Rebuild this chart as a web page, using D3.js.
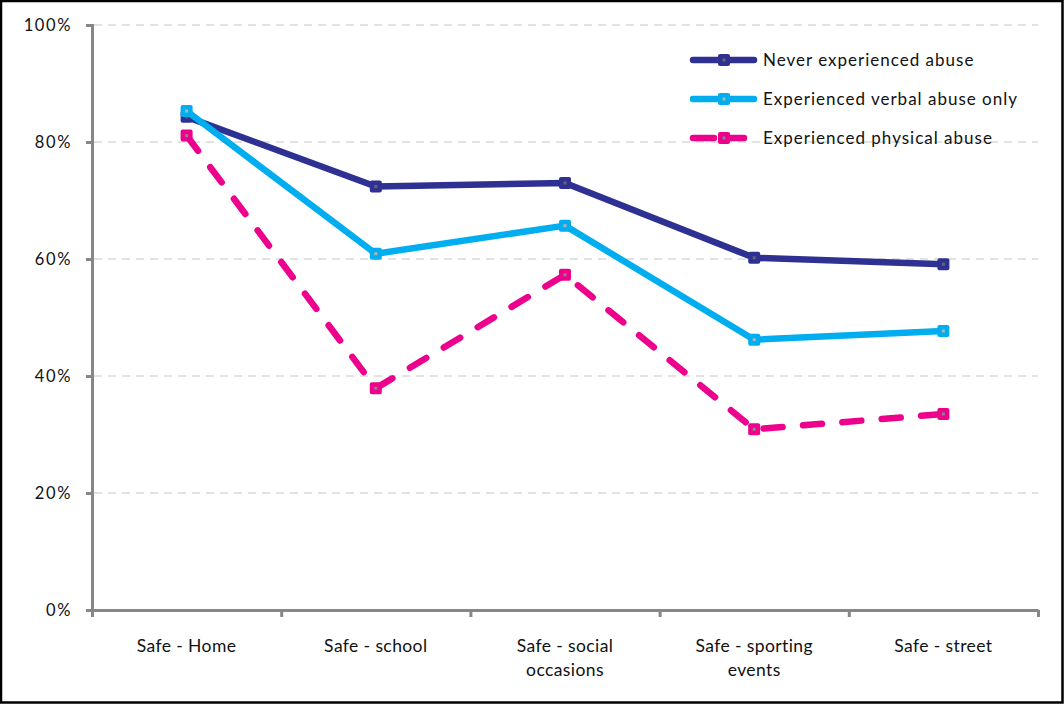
<!DOCTYPE html>
<html>
<head>
<meta charset="utf-8">
<script src="https://cdn.jsdelivr.net/npm/d3@7"></script>
<style>
	body { margin: 0; background: #fff; }
	text { font-family: Lato, "Open Sans", sans-serif; fill: #111; }
</style>
</head>
<body>
<svg id="chart" width="1064" height="704"></svg>
<script>
// Chart data
const categories = ['Safe - Home', 'Safe - school', 'Safe - social occasions', 'Safe - sporting events', 'Safe - street'];
const neverAbuse = [0.843, 0.724, 0.730, 0.602, 0.591];
const verbalAbuse = [0.853, 0.609, 0.657, 0.462, 0.477];
const physicalAbuse = [0.811, 0.379, 0.573, 0.309, 0.335];
const seriesNames = ['Never experienced abuse', 'Experienced verbal abuse only', 'Experienced physical abuse'];
const yTicks = [0, 0.2, 0.4, 0.6, 0.8, 1];

// Layout
const width = 1064, height = 704;
const margin = { top: 25, right: 26, bottom: 94, left: 92 };
const svg = d3.select('#chart');

let series = [
	{ name: seriesNames[0], values: neverAbuse, color: '#2e3192', dash: null, dot: '#666' },
	{ name: seriesNames[1], values: verbalAbuse, color: '#00aeef', dash: null, dot: '#b3b3b3' },
	{ name: seriesNames[2], values: physicalAbuse, color: '#ec008c', dash: '19,20.5', dot: '#888' }
];

// outer frame
svg.append('rect')
	.attr('x', 1).attr('y', 1)
	.attr('width', width - 2.5).attr('height', height - 2.5)
	.attr('fill', '#fff')
	.attr('stroke', '#000')
	.attr('stroke-width', 2.5);

let x = d3.scaleBand()
	.domain(categories)
	.range([margin.left, width - margin.right]);
let xTicks = d3.scaleLinear()
	.domain([0, categories.length])
	.range([margin.left, width - margin.right]);
let y = d3.scaleLinear()
	.domain([0, 1])
	.range([height - margin.bottom, margin.top]);
const cx = (i) => x(categories[i]) + x.bandwidth() / 2;

// gridlines
svg.append('g')
	.selectAll('line')
	.data(yTicks.filter(d => d > 0))
	.enter()
	.append('line')
	.attr('x1', margin.left + 2)
	.attr('x2', width - margin.right)
	.attr('y1', d => y(d))
	.attr('y2', d => y(d))
	.attr('stroke', '#d9d9d9')
	.attr('stroke-width', 1.5)
	.attr('stroke-dasharray', '8,6');

// y axis
let yAxis = svg.append('g')
	.attr('transform', `translate(${margin.left},0)`)
	.call(d3.axisLeft(y).tickValues(yTicks).tickFormat(d3.format('.0%')).tickSize(6).tickPadding(14));
yAxis.select('.domain').attr('stroke', '#878787').attr('stroke-width', 3);
yAxis.selectAll('.tick line').attr('stroke', '#878787').attr('stroke-width', 3);
yAxis.selectAll('.tick text')
	.style('font-size', '16.5px')
	.style('letter-spacing', '1.6px')
	.attr('fill', '#111');

// x axis: ticks on the category boundaries
let xAxis = svg.append('g')
	.attr('transform', `translate(0,${height - margin.bottom})`)
	.call(d3.axisBottom(xTicks).tickValues(d3.range(categories.length + 1)).tickFormat('').tickSize(7).tickSizeOuter(0));
xAxis.select('.domain').attr('stroke', '#878787').attr('stroke-width', 3);
xAxis.selectAll('.tick line').attr('stroke', '#878787').attr('stroke-width', 3);

// category labels, wrapped like the original
const wrapped = {
	'Safe - social occasions': ['Safe - social', 'occasions'],
	'Safe - sporting events': ['Safe - sporting', 'events']
};
let labels = svg.append('g')
	.selectAll('text')
	.data(categories)
	.enter()
	.append('text')
	.attr('text-anchor', 'middle')
	.style('font-size', '17.5px')
	.style('letter-spacing', '0.4px')
	.attr('x', d => x(d) + x.bandwidth() / 2)
	.attr('y', height - margin.bottom + 42);
labels.each(function(d) {
	let lines = wrapped[d] || [d];
	d3.select(this).selectAll('tspan')
		.data(lines)
		.enter()
		.append('tspan')
		.attr('x', x(d) + x.bandwidth() / 2)
		.attr('dy', (l, i) => i === 0 ? 0 : 24)
		.text(l => l);
});

// lines
let line = d3.line()
	.x((d, i) => cx(i))
	.y(d => y(d));

let groups = svg.append('g')
	.selectAll('g')
	.data(series)
	.enter()
	.append('g');

groups.append('path')
	.attr('d', d => line(d.values))
	.attr('fill', 'none')
	.attr('stroke', d => d.color)
	.attr('stroke-width', 6.5)
	.attr('stroke-linecap', d => d.dash ? 'round' : 'butt')
	.attr('stroke-linejoin', 'round')
	.attr('stroke-dasharray', d => d.dash);

// markers
groups.each(function(s) {
	let g = d3.select(this);
	g.selectAll('rect.mark')
		.data(s.values)
		.enter()
		.append('rect')
		.attr('class', 'mark')
		.attr('x', (d, i) => cx(i) - 6)
		.attr('y', d => y(d) - 6)
		.attr('width', 12).attr('height', 12)
		.attr('rx', 2)
		.attr('fill', s.color);
	g.selectAll('rect.dot')
		.data(s.values)
		.enter()
		.append('rect')
		.attr('class', 'dot')
		.attr('x', (d, i) => cx(i) - 1.5)
		.attr('y', d => y(d) - 1.5)
		.attr('width', 3).attr('height', 3)
		.attr('fill', s.dot);
});

// legend
let legend = svg.append('g')
	.attr('transform', 'translate(690,60)');
let items = legend.selectAll('g')
	.data(series)
	.enter()
	.append('g')
	.attr('transform', (d, i) => `translate(0,${i * 39})`);
items.append('line')
	.attr('x1', 3).attr('x2', 64)
	.attr('stroke', d => d.color)
	.attr('stroke-width', 6.5)
	.attr('stroke-linecap', 'round')
	.attr('stroke-dasharray', d => d.dash ? '21,9,21' : null);
items.append('rect')
	.attr('x', 28).attr('y', -6)
	.attr('width', 12).attr('height', 12)
	.attr('rx', 2)
	.attr('fill', d => d.color);
items.append('rect')
	.attr('x', 32.5).attr('y', -1.5)
	.attr('width', 3).attr('height', 3)
	.attr('fill', d => d.dot);
items.append('text')
	.attr('x', 73)
	.attr('dy', '0.35em')
	.style('font-size', '17px')
	.style('letter-spacing', '1px')
	.text(d => d.name);
</script>
</body>
</html>
